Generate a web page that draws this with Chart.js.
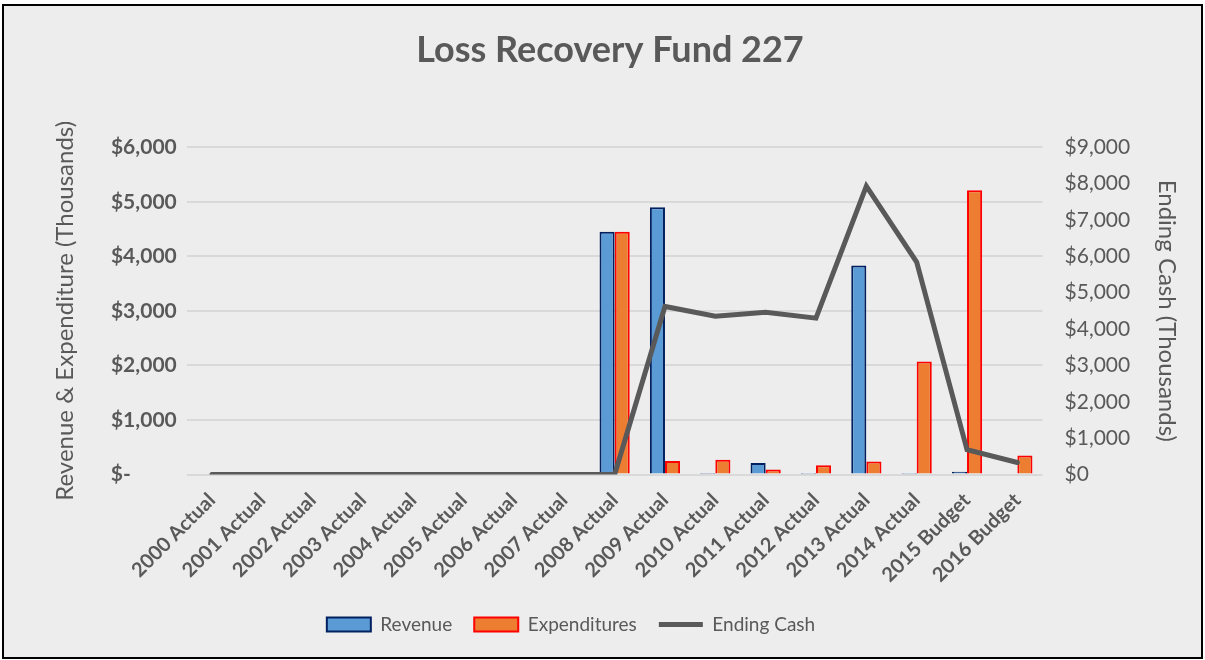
<!DOCTYPE html>
<html lang="en">
  <head>
    <meta charset="UTF-8" />
    <title>Loss Recovery Fund 227</title>
    <style>
      * {
        padding: 0px;
        margin: 0px;
        box-sizing: border-box;
      }
      body {
        background: #ffffff;
      }
      #grafico {
        position: absolute;
        left: 2px;
        top: 4px;
        width: 1201px;
        height: 655px;
        border: 2px solid #000000;
        background: #ededed;
      }
    </style>
  </head>
  <body>
    <div id="grafico">
      <canvas id="grafico1"></canvas>
    </div>

    <script src="https://cdn.jsdelivr.net/npm/chart.js"></script>
    <script>
      const anos = ['2000 Actual', '2001 Actual', '2002 Actual', '2003 Actual', '2004 Actual',
        '2005 Actual', '2006 Actual', '2007 Actual', '2008 Actual', '2009 Actual', '2010 Actual',
        '2011 Actual', '2012 Actual', '2013 Actual', '2014 Actual', '2015 Budget', '2016 Budget']
      const receita = [null, null, null, null, null, null, null, null, 4450, 4900, 8, 210, 5, 3830, 5, 50, null]
      const despesas = [null, null, null, null, null, null, null, null, 4450, 250, 270, 90, 170, 240, 2070, 5210, 350]
      const caixaFinal = [0, 0, 0, 0, 0, 0, 0, 0, 0, 4620, 4350, 4460, 4300, 7930, 5840, 680, 330]
      const ticksEsq = [0, 1000, 2000, 3000, 4000, 5000, 6000]
      const ticksDir = [0, 1000, 2000, 3000, 4000, 5000, 6000, 7000, 8000, 9000]

      const cinza = '#595959'
      const fonte = 'Lato, "Open Sans", sans-serif'

      // in the original the title and legend are not centred on the same line
      const ajustarBlocos = {
        id: 'ajustarBlocos',
        afterLayout(chart) {
          const leg = chart.legend
          const dx = 572 - (leg.left + leg.right + 10) / 2
          leg.left += dx
          leg.right += dx
          const tit = chart.titleBlock
          const tx = 606 - (tit.left + tit.right) / 2
          tit.left += tx
          tit.right += tx
        }
      }

      const ctx = document.getElementById('grafico1')

      new Chart(ctx, {
        type: 'bar',
        data: {
          labels: anos,
          datasets: [{
            label: 'Revenue',
            data: receita,
            backgroundColor: '#5b9bd5',
            borderColor: '#002060',
            borderWidth: 2,
            pointStyle: 'rect',
            yAxisID: 'y'
          }, {
            label: 'Expenditures',
            data: despesas,
            backgroundColor: '#ed7d31',
            borderColor: '#ff0000',
            borderWidth: 2,
            pointStyle: 'rect',
            yAxisID: 'y'
          }, {
            type: 'line',
            label: 'Ending Cash',
            data: caixaFinal,
            borderColor: '#595959',
            backgroundColor: '#595959',
            borderWidth: 5,
            borderCapStyle: 'round',
            pointRadius: 0,
            pointStyle: 'line',
            tension: 0,
            order: -1,
            yAxisID: 'y1'
          }]
        },
        plugins: [ajustarBlocos],
        options: {
          responsive: true,
          maintainAspectRatio: false,
          animation: false,
          layout: {
            padding: { left: 47, right: 6, top: 0, bottom: 13 }
          },
          datasets: {
            bar: { categoryPercentage: 0.6, barPercentage: 1.0 }
          },
          plugins: {
            title: {
              display: true,
              text: 'Loss Recovery Fund 227',
              color: cinza,
              font: { family: fonte, size: 36, weight: 'bold' },
              padding: { top: 23, bottom: 75 }
            },
            legend: {
              position: 'bottom',
              labels: {
                usePointStyle: true,
                pointStyleWidth: 44,
                boxHeight: 14,
                color: cinza,
                padding: 22,
                font: { family: fonte, size: 19 },
                sort: (a, b) => a.datasetIndex - b.datasetIndex
              }
            },
            tooltip: { enabled: false }
          },
          scales: {
            x: {
              grid: { display: false },
              border: { display: false },
              ticks: {
                color: cinza,
                minRotation: 45,
                maxRotation: 45,
                padding: 6,
                font: { family: fonte, size: 20, weight: 'bold' }
              }
            },
            y: {
              position: 'left',
              min: 0,
              max: 6000,
              afterBuildTicks: axis => { axis.ticks = ticksEsq.map(v => ({ value: v })) },
              grid: { color: '#d9d9d9', lineWidth: 2, drawTicks: false },
              border: { display: false },
              ticks: {
                color: cinza,
                padding: 10,
                font: { family: fonte, size: 21, weight: 'bold' },
                // accounting style: "$-" sits left, under the other dollar signs
                callback: v => v === 0 ? '$-         ' : '$' + v.toLocaleString('en-US')
              },
              title: {
                display: true,
                text: 'Revenue & Expenditure (Thousands)',
                color: cinza,
                font: { family: fonte, size: 24 },
                padding: { top: 0, bottom: 21 }
              }
            },
            y1: {
              position: 'right',
              min: 0,
              max: 9000,
              afterBuildTicks: axis => { axis.ticks = ticksDir.map(v => ({ value: v })) },
              grid: { display: false, drawTicks: false },
              border: { display: false },
              ticks: {
                color: cinza,
                padding: 22,
                font: { family: fonte, size: 21 },
                callback: v => '$' + v.toLocaleString('en-US')
              },
              title: {
                display: true,
                text: 'Ending Cash (Thousands)',
                color: cinza,
                font: { family: fonte, size: 24 },
                padding: { top: 14, bottom: 0 }
              }
            }
          }
        }
      })
    </script>
  </body>
</html>
